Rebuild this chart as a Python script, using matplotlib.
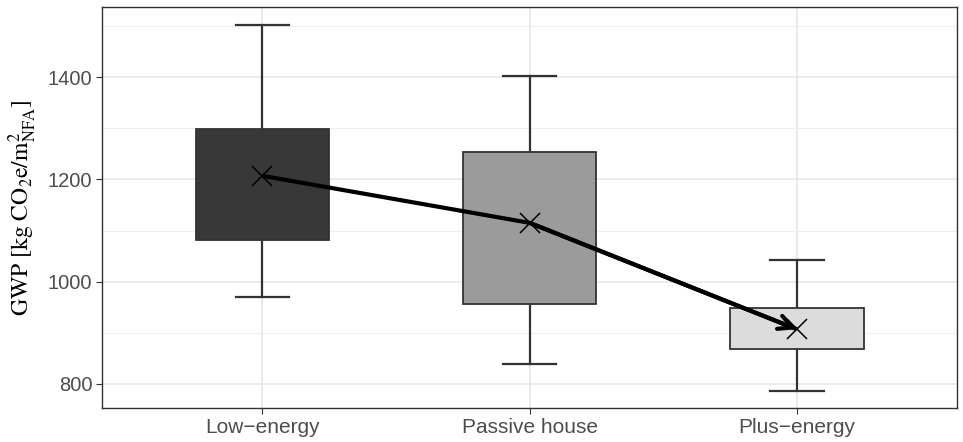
import matplotlib.pyplot as plt
from matplotlib.patches import Rectangle
from matplotlib.ticker import MultipleLocator

categories = ['Low\u2212energy', 'Passive house', 'Plus\u2212energy']
whisker_lo = [970, 839, 786]
box_lo = [1081, 956, 868]
box_hi = [1298, 1253, 948]
whisker_hi = [1501, 1402, 1042]
means = [1207, 1115, 907]
fills = ['#383838', '#9b9b9b', '#dcdcdc']

plt.rcParams['font.family'] = ['Liberation Sans', 'DejaVu Sans']
plt.rcParams['mathtext.fontset'] = 'stix'

fig = plt.figure(figsize=(9.63, 4.42), dpi=100)
ax = fig.add_axes([0.106, 0.077, 0.888, 0.907])

edge = '#333333'
for i, cat in enumerate(categories):
    x = i + 1
    # whiskers and caps
    ax.plot([x, x], [box_hi[i], whisker_hi[i]], color=edge, lw=1.6, zorder=3)
    ax.plot([x, x], [whisker_lo[i], box_lo[i]], color=edge, lw=1.6, zorder=3)
    for y in (whisker_lo[i], whisker_hi[i]):
        ax.plot([x - 0.1, x + 0.1], [y, y], color=edge, lw=1.6, zorder=3)
    ax.add_patch(Rectangle((x - 0.25, box_lo[i]), 0.5, box_hi[i] - box_lo[i],
                           facecolor=fills[i], edgecolor=edge, lw=1.3, zorder=4))

xs = [1, 2, 3]
ax.plot(xs, means, linestyle='none', marker='x', color='black', ms=15, mew=1.1, zorder=6)
ax.plot(xs, means, color='black', lw=3, zorder=5,
        solid_capstyle='butt', solid_joinstyle='round')
# open arrow head at the last mean
ax.annotate('', xy=(xs[2], means[2]), xytext=(xs[1], means[1]),
            arrowprops=dict(arrowstyle='->,head_length=1.0,head_width=0.5',
                            color='black', lw=3, shrinkA=0, shrinkB=0),
            zorder=5)

ax.set_xlim(0.4, 3.6)
ax.set_ylim(753, 1537)
ax.set_xticks(xs)
ax.set_xticklabels(categories, fontsize=15)
ax.yaxis.set_major_locator(MultipleLocator(200))
ax.yaxis.set_minor_locator(MultipleLocator(100))
ax.grid(which='major', color='#e6e6e6', lw=1.1, zorder=0)
ax.grid(which='minor', axis='y', color='#eeeeee', lw=0.8, zorder=0)
ax.set_axisbelow(True)
for s in ax.spines.values():
    s.set_color('#333333')
    s.set_linewidth(1.0)
ax.tick_params(axis='both', which='major', length=4, color='#333333',
               labelsize=14.5, labelcolor='#4d4d4d', pad=3)
ax.tick_params(axis='x', labelsize=15)
ax.tick_params(axis='y', which='minor', length=0)
ax.set_ylabel(r'GWP [kg CO$_2$e/m$^2_{\mathrm{NFA}}$]', fontsize=17,
              family='STIXGeneral', labelpad=6)

fig.savefig('out.png', dpi=100)
